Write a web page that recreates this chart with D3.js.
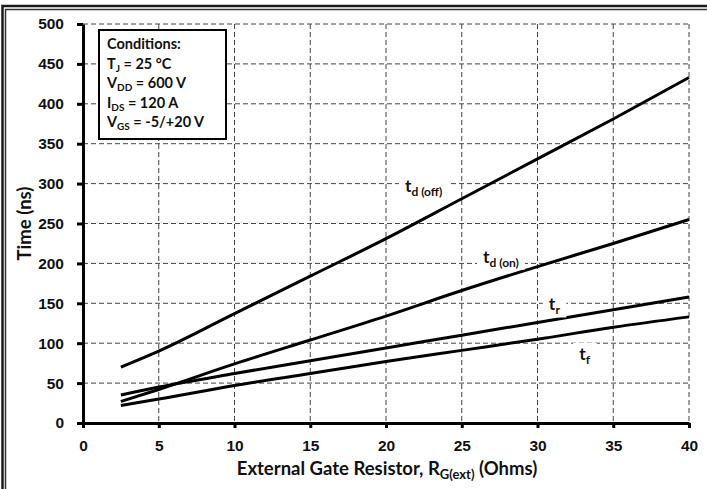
<!DOCTYPE html>
<html>
<head>
<meta charset="utf-8">
<script src="https://cdn.jsdelivr.net/npm/d3@7"></script>
<style>
  body { margin: 0; background: #fff; }
  svg { display: block; font-family: Lato, "Open Sans", sans-serif; font-weight: bold; }
  .grid line { stroke: #444; stroke-width: 1; stroke-dasharray: 5,3; }
  .axis path, .axis line { stroke: #000; stroke-width: 3; }
  .axis text { font-size: 15.5px; font-weight: bold; fill: #111; }
  .curve { fill: none; stroke: #000; stroke-width: 3; }
</style>
</head>
<body>
<div id="chart"></div>
<script>
// gate resistor values (Ohms) and switching times (ns)
const rg = [2.5, 5, 10, 15, 20, 25, 30, 35, 40];
const tdOff = [70, 90, 137, 184, 231, 281, 331, 381, 433];
const tdOn = [27, 42, 74, 104, 134, 166, 196, 225, 255];
const tr = [35, 45, 62, 78, 94, 110, 126, 142, 158];
const tf = [22, 30, 47, 62, 77, 91, 105, 120, 133];

const xTicks = [0, 5, 10, 15, 20, 25, 30, 35, 40];
const yTicks = [0, 50, 100, 150, 200, 250, 300, 350, 400, 450, 500];

const conditions = [
    [["Conditions:", ""]],
    [["T", ""], ["J", "sub"], [" = 25 °C", ""]],
    [["V", ""], ["DD", "sub"], [" = 600 V", ""]],
    [["I", ""], ["DS", "sub"], [" = 120 A", ""]],
    [["V", ""], ["GS", "sub"], [" = -5/+20 V", ""]]
];

// curve labels, anchored in data units
const curveLabels = [
    { main: "t", sub: "d (off)", x: 21.25, y: 290 },
    { main: "t", sub: "d (on)", x: 26.4, y: 201 },
    { main: "t", sub: "r", x: 30.75, y: 141 },
    { main: "t", sub: "f", x: 32.75, y: 79 }
];

var W = 707, H = 489;
var margin = { top: 24, right: 18, bottom: 66, left: 83 },
    width = W - margin.left - margin.right,
    height = H - margin.top - margin.bottom;

var x = d3.scaleLinear().domain([0, 40]).range([0, width]);
var y = d3.scaleLinear().domain([0, 500]).range([height, 0]);

var svg = d3.select("#chart").append("svg")
    .attr("width", W)
    .attr("height", H);

svg.append("rect").attr("width", W).attr("height", H).attr("fill", "#fff");

// double frame (runs off the right and bottom edge)
svg.append("rect")
    .attr("x", 2.5).attr("y", 6)
    .attr("width", W + 20).attr("height", H + 20)
    .attr("fill", "none").attr("stroke", "#1a1a1a").attr("stroke-width", 2.5);
svg.append("rect")
    .attr("x", 5.5).attr("y", 9.5)
    .attr("width", W + 20).attr("height", H + 20)
    .attr("fill", "none").attr("stroke", "#333").attr("stroke-width", 1.5);

var g = svg.append("g")
    .attr("transform", "translate(" + margin.left + "," + margin.top + ")");

// grid
var grid = g.append("g").attr("class", "grid");
grid.selectAll(".gx")
    .data(xTicks.filter(function (d) { return d > 0; }))
    .enter().append("line")
    .attr("x1", function (d) { return x(d); })
    .attr("x2", function (d) { return x(d); })
    .attr("y1", 0).attr("y2", height);
grid.selectAll(".gy")
    .data(yTicks.filter(function (d) { return d > 0; }))
    .enter().append("line")
    .attr("x1", 0).attr("x2", width)
    .attr("y1", function (d) { return y(d); })
    .attr("y2", function (d) { return y(d); });

// curves
var line = d3.line()
    .x(function (d) { return x(d[0]); })
    .y(function (d) { return y(d[1]); })
    .curve(d3.curveMonotoneX);

[tdOff, tdOn, tr, tf].forEach(function (s) {
    g.append("path")
        .attr("class", "curve")
        .attr("d", line(rg.map(function (r, i) { return [r, s[i]]; })));
});

// curve labels with white backing that breaks the grid
curveLabels.forEach(function (l) {
    var lg = g.append("g");
    var bg = lg.append("rect").attr("fill", "#fff");
    var t = lg.append("text")
        .attr("x", x(l.x))
        .attr("y", y(l.y))
        .style("font-size", "17.5px")
        .attr("fill", "#111");
    t.append("tspan").text(l.main);
    t.append("tspan").attr("dy", 4).style("font-size", "12px").text(l.sub);
    var b = t.node().getBBox();
    bg.attr("x", b.x - 6).attr("y", b.y)
        .attr("width", b.width + 12).attr("height", b.height);
});

// axes
var xAxis = d3.axisBottom(x).tickValues(xTicks).tickSize(5).tickSizeOuter(0).tickPadding(12);
var yAxis = d3.axisLeft(y).tickValues(yTicks).tickSize(6).tickSizeOuter(0).tickPadding(13);

g.append("g")
    .attr("class", "axis")
    .call(yAxis);

g.append("g")
    .attr("class", "axis")
    .attr("transform", "translate(0," + height + ")")
    .call(xAxis);

// axis titles
var xt = svg.append("text")
    .attr("x", margin.left + width / 2 + 1)
    .attr("y", 475)
    .attr("text-anchor", "middle")
    .style("font-size", "18.5px")
    .attr("fill", "#111");
xt.append("tspan").text("External Gate Resistor, R");
xt.append("tspan").attr("dy", 4).style("font-size", "13px").text("G(ext)");
xt.append("tspan").attr("dy", -4).text(" (Ohms)");

svg.append("text")
    .attr("transform", "translate(31," + (margin.top + height / 2) + ") rotate(-90)")
    .attr("text-anchor", "middle")
    .style("font-size", "18.5px")
    .attr("fill", "#111")
    .text("Time (ns)");

// conditions box
var box = g.append("g").attr("transform", "translate(16,6)");
box.append("rect")
    .attr("width", 127).attr("height", 109)
    .attr("fill", "#fff").attr("stroke", "#000").attr("stroke-width", 2);

conditions.forEach(function (row, i) {
    var t = box.append("text")
        .attr("x", 8)
        .attr("y", 19 + i * 19.5)
        .style("font-size", "14.5px")
        .attr("fill", "#111");
    row.forEach(function (p) {
        var ts = t.append("tspan").text(p[0]);
        if (p[1] === "sub") {
            ts.attr("dy", 3).style("font-size", "10px");
        } else if (t.selectAll("tspan").size() > 1) {
            ts.attr("dy", -3);
        }
    });
});
</script>
</body>
</html>
